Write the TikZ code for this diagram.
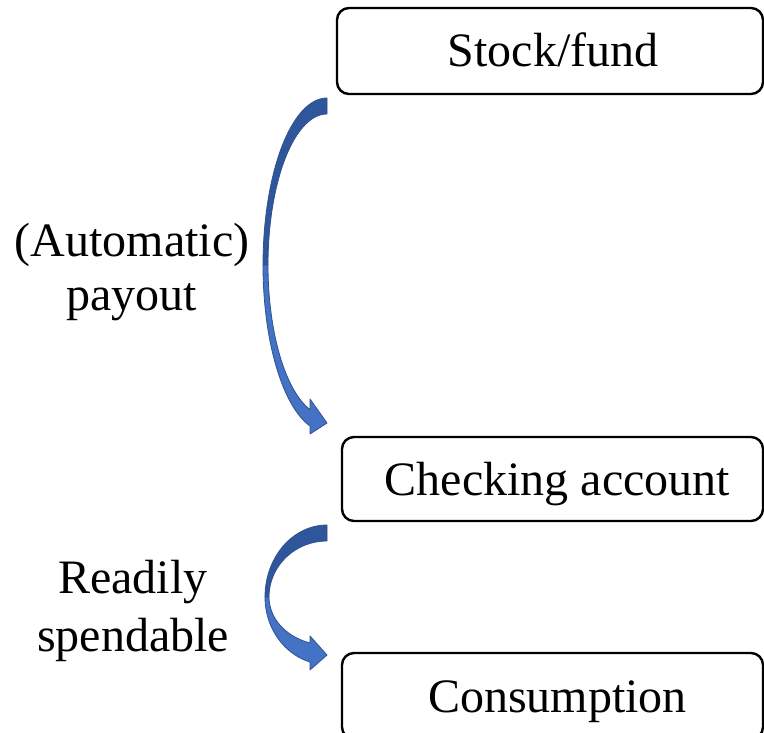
\documentclass[tikz,border=0pt]{standalone}
\usepackage{fontspec}
\setmainfont{Liberation Serif}
\definecolor{ribbonfront}{RGB}{68,114,196}
\definecolor{ribbonback}{RGB}{47,85,155}
\definecolor{ribbonedge}{RGB}{47,82,143}
\tikzset{
  box/.style={draw, line width=2.4pt, rounded corners=12pt, inner sep=0pt,
    text height=32pt, text depth=0pt, font=\fontsize{48}{54}\selectfont},
  caption/.style={align=center, inner sep=0pt, font=\fontsize{48}{54}\selectfont},
  backface/.style={fill=ribbonback, draw=ribbonedge, line width=0.8pt, line join=round},
  frontface/.style={fill=ribbonfront, draw=ribbonedge, line width=0.8pt, line join=round},
}
\begin{document}
\begin{tikzpicture}[x=1pt,y=-1pt]
\useasboundingbox (0,0) rectangle (764,733);
\clip (0,0) rectangle (764,733);

% account boxes (text sits slightly right of the box centre)
\node[box, minimum width=426pt, minimum height=86pt] (stock) at (550,51) {\hspace*{6pt}Stock/fund};
\node[box, minimum width=421pt, minimum height=84pt] (check) at (552.5,479) {\hspace*{10pt}Checking account};
\node[box, minimum width=421pt, minimum height=86pt] (consume) at (552.5,696) {\hspace*{10pt}Consumption};

% side captions
\node[caption] (payout) at (132,272) {(Automatic)\\payout};
\node[caption, font=\fontsize{48}{58}\selectfont] (spend) at (133,611) {Readily\\spendable};

% curved ribbon arrow: stock/fund -> checking account
\filldraw[backface]
  plot[domain=0:90, samples=40, variable=\t] ({327+64*cos(270-\t)},{265+167*sin(270-\t)})
  -- plot[domain=0:90, samples=40, variable=\t] ({327+59*cos(180+\t)},{265+151*sin(180+\t)})
  -- cycle;
\filldraw[frontface]
  plot[domain=0:74.6, samples=40, variable=\t] ({327+64*cos(180-\t)},{265+167*sin(180-\t)})
  -- (310,434) -- (327,423) -- (310,399)
  -- plot[domain=0:73.25, samples=40, variable=\t] ({327+59*cos(106.75+\t)},{265+151*sin(106.75+\t)})
  -- cycle;

% curved ribbon arrow: checking account -> consumption
\filldraw[backface]
  plot[domain=0:90, samples=40, variable=\t] ({327+62*cos(270-\t)},{597+72*sin(270-\t)})
  -- plot[domain=0:90, samples=40, variable=\t] ({327+58*cos(180+\t)},{597+56*sin(180+\t)})
  -- cycle;
\filldraw[frontface]
  plot[domain=0:74.1, samples=40, variable=\t] ({327+62*cos(180-\t)},{597+67.6*sin(180-\t)})
  -- (310,670) -- (327,655) -- (310,636)
  -- plot[domain=0:72.96, samples=40, variable=\t] ({327+58*cos(107.04+\t)},{597+48*sin(107.04+\t)})
  -- cycle;
\end{tikzpicture}
\end{document}
